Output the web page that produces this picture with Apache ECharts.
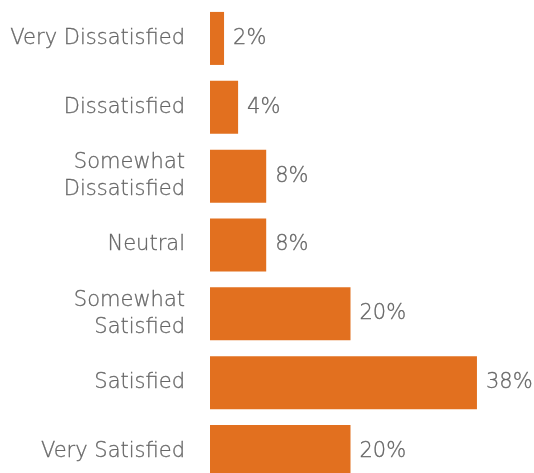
<!DOCTYPE html>
<html>
<head>
<meta charset="utf-8">
<script src="https://cdn.jsdelivr.net/npm/echarts@6/dist/echarts.min.js"></script>
<style>
  html, body { margin: 0; padding: 0; background: #ffffff; overflow: hidden; }
  #chart { width: 534px; height: 490px; }
</style>
</head>
<body>
<div id="chart"></div>
<script>
// Satisfaction ratings, top to bottom
const categories = [
  'Very Dissatisfied',
  'Dissatisfied',
  'Somewhat\nDissatisfied',
  'Neutral',
  'Somewhat\nSatisfied',
  'Satisfied',
  'Very Satisfied'
];
// Share of respondents (%)
const shares = [2, 4, 8, 8, 20, 38, 20];

const chart = echarts.init(document.getElementById('chart'), null, { renderer: 'canvas' });

const textFont = 'DejaVu Sans';
const textColor = '#666666';

chart.setOption({
  animation: false,
  backgroundColor: '#ffffff',
  grid: { left: 210, right: 43, top: 4, bottom: 4, containLabel: false },
  xAxis: {
    type: 'value',
    min: 0,
    max: 40,
    show: false
  },
  yAxis: {
    type: 'category',
    data: categories,
    inverse: true,
    axisLine: { show: false },
    axisTick: { show: false },
    splitLine: { show: false },
    axisLabel: {
      margin: 25,
      color: textColor,
      fontFamily: textFont,
      fontWeight: 200,
      fontSize: 21,
      lineHeight: 27,
      align: 'right',
      textBorderColor: textColor,
      textBorderWidth: 0.3
    }
  },
  series: [{
    type: 'bar',
    data: shares,
    barCategoryGap: '23%',
    itemStyle: { color: '#E2701F' },
    label: {
      show: true,
      position: 'right',
      distance: 9,
      color: textColor,
      fontFamily: textFont,
      fontWeight: 200,
      fontSize: 21,
      textBorderColor: textColor,
      textBorderWidth: 0.3,
      formatter: p => p.value + '%'
    }
  }]
});
</script>
</body>
</html>
